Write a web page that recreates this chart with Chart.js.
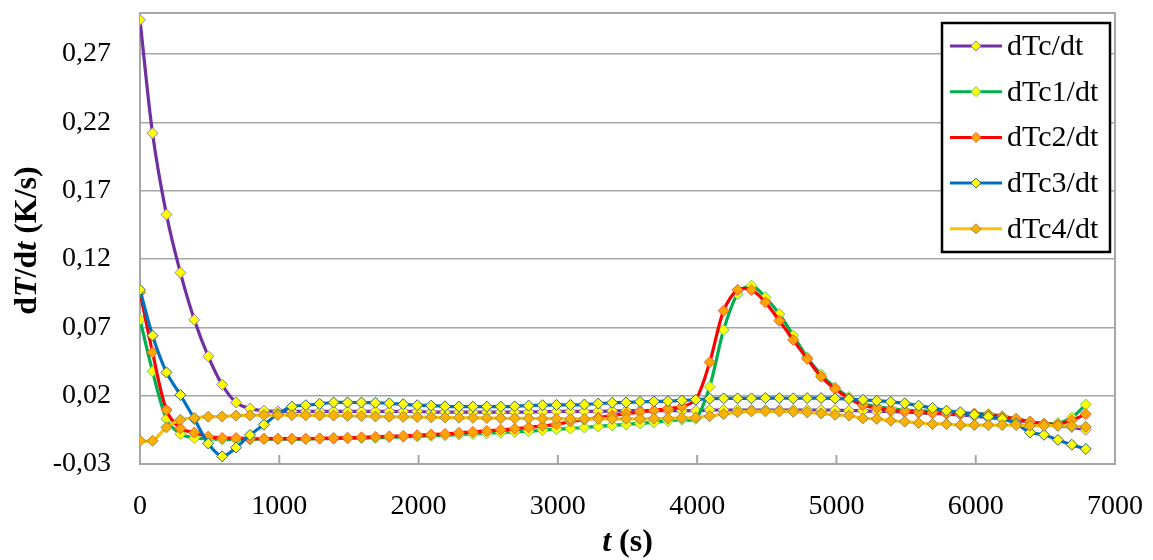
<!DOCTYPE html>
<html>
<head>
<meta charset="utf-8">
<script src="https://cdn.jsdelivr.net/npm/chart.js@4/dist/chart.umd.min.js"></script>
<style>
  body { margin: 0; background: #fff; }
  canvas { display: block; }
</style>
</head>
<body>
<canvas id="chart" width="1153" height="560"></canvas>
<script>
// time stamps (s)
const times = [
  0, 90, 190, 290, 390, 490, 590, 690, 790, 890,
  990, 1090, 1190, 1290, 1390, 1490, 1590, 1690, 1790, 1890,
  1990, 2090, 2190, 2290, 2390, 2490, 2590, 2690, 2790, 2890,
  2990, 3090, 3190, 3290, 3390, 3490, 3590, 3690, 3790, 3890,
  3990, 4090, 4190, 4290, 4390, 4490, 4590, 4690, 4790, 4890,
  4990, 5090, 5190, 5290, 5390, 5490, 5590, 5690, 5790, 5890,
  5990, 6090, 6190, 6290, 6390, 6490, 6590, 6690, 6790
];

const dTc = [
  0.295, 0.212, 0.1525, 0.110, 0.0756, 0.0488, 0.028, 0.015, 0.0105, 0.009,
  0.0085, 0.0085, 0.0085, 0.0085, 0.0085, 0.0085, 0.0085, 0.0085, 0.0085, 0.0085,
  0.0085, 0.008, 0.008, 0.008, 0.008, 0.008, 0.008, 0.008, 0.008, 0.0082,
  0.0085, 0.0085, 0.0085, 0.0085, 0.0088, 0.009, 0.009, 0.009, 0.009, 0.009,
  0.009, 0.0095, 0.0095, 0.0095, 0.0095, 0.0095, 0.0095, 0.0095, 0.0095, 0.0095,
  0.0095, 0.009, 0.009, 0.0085, 0.0085, 0.008, 0.0075, 0.007, 0.0065, 0.006,
  0.005, 0.004, 0.003, 0.002, 0.0005, -0.001, -0.002, -0.003, -0.005
];

const dTc1 = [
  0.0756, 0.0378, 0.003, -0.008, -0.011, -0.0115, -0.012, -0.012, -0.012, -0.0118,
  -0.0118, -0.0118, -0.0118, -0.0115, -0.0115, -0.0112, -0.011, -0.0108, -0.0105, -0.0102,
  -0.0098, -0.0095, -0.009, -0.0085, -0.008, -0.0075, -0.007, -0.0065, -0.006, -0.0052,
  -0.0045, -0.004, -0.0033, -0.0025, -0.0018, -0.001, -0.0003, 0.0005, 0.0015, 0.0025,
  0.003, 0.0266, 0.068, 0.0944, 0.1005, 0.092, 0.0798, 0.064, 0.048, 0.0354,
  0.026, 0.019, 0.014, 0.012, 0.0105, 0.0095, 0.009, 0.0085, 0.008, 0.0075,
  0.007, 0.0065, 0.005, 0.003, 0.001, -0.0005, 0.0, 0.004, 0.0135
];

const dTc2 = [
  0.0955, 0.0517, 0.0095, -0.004, -0.007, -0.010, -0.011, -0.011, -0.0115, -0.0115,
  -0.0115, -0.0115, -0.0115, -0.0112, -0.011, -0.0108, -0.0105, -0.0102, -0.0098, -0.0095,
  -0.009, -0.0085, -0.008, -0.0072, -0.0065, -0.0058, -0.005, -0.0042, -0.0032, -0.0022,
  -0.001, 0.001, 0.0025, 0.004, 0.0055, 0.0068, 0.008, 0.0092, 0.0105, 0.012,
  0.017, 0.0444, 0.0822, 0.0974, 0.0974, 0.0883, 0.0749, 0.0608, 0.0469, 0.0339,
  0.0249, 0.018, 0.013, 0.011, 0.0095, 0.0085, 0.008, 0.0075, 0.007, 0.007,
  0.0065, 0.006, 0.0045, 0.003, 0.001, -0.0005, -0.001, 0.002, 0.0065
];

const dTc3 = [
  0.0974, 0.064, 0.037, 0.0205, 0.003, -0.015, -0.0244, -0.018, -0.0088, -0.0012,
  0.0066, 0.012, 0.013, 0.014, 0.015, 0.015, 0.015, 0.0148, 0.0144, 0.0137,
  0.013, 0.0127, 0.0122, 0.012, 0.012, 0.012, 0.012, 0.0122, 0.0127, 0.013,
  0.0132, 0.0132, 0.0135, 0.0142, 0.0148, 0.015, 0.0155, 0.0158, 0.016, 0.0165,
  0.017, 0.0178, 0.018, 0.018, 0.018, 0.0182, 0.0182, 0.018, 0.0182, 0.0182,
  0.018, 0.0175, 0.017, 0.0162, 0.0155, 0.0144, 0.0127, 0.011, 0.009, 0.0078,
  0.0061, 0.0046, 0.003, -0.0003, -0.0069, -0.0086, -0.0124, -0.0159, -0.019
];

const dTc4 = [
  -0.013, -0.013, -0.0032, 0.0024, 0.0037, 0.0046, 0.0048, 0.0054, 0.0056, 0.0058,
  0.0058, 0.0058, 0.0056, 0.0055, 0.0054, 0.0052, 0.005, 0.0048, 0.0046, 0.0045,
  0.0044, 0.0042, 0.004, 0.0039, 0.0038, 0.0036, 0.0035, 0.0034, 0.0033, 0.0032,
  0.0031, 0.003, 0.003, 0.003, 0.003, 0.003, 0.003, 0.0032, 0.0034, 0.0037,
  0.004, 0.005, 0.0065, 0.0078, 0.0085, 0.0085, 0.0085, 0.0082, 0.0078, 0.007,
  0.006, 0.0054, 0.0034, 0.003, 0.0017, 0.001, 0.0, -0.0007, -0.0007, -0.0015,
  -0.0015, -0.0015, -0.0015, -0.0015, -0.002, -0.002, -0.002, -0.0022, -0.0028
];

const seriesNames = ['dTc/dt', 'dTc1/dt', 'dTc2/dt', 'dTc3/dt', 'dTc4/dt'];
const yTicks = [-0.03, 0.02, 0.07, 0.12, 0.17, 0.22, 0.27];
const xTicks = [0, 1000, 2000, 3000, 4000, 5000, 6000, 7000];

const FONT = '"Liberation Serif", "Times New Roman", serif';

const styles = [
  { line: '#7030a0', fill: '#ffff00', edge: '#9a7cb8' },
  { line: '#00b050', fill: '#ffff00', edge: '#66d060' },
  { line: '#ff0000', fill: '#ffa500', edge: '#ff5a30' },
  { line: '#0070c0', fill: '#ffff00', edge: '#2f5f8a' },
  { line: '#ffc000', fill: '#ffb000', edge: '#8f8a50' }
];

const allSeries = [dTc, dTc1, dTc2, dTc3, dTc4];

const datasets = allSeries.map((vals, i) => ({
  label: seriesNames[i],
  data: times.map((t, k) => ({ x: t, y: vals[k] })),
  borderColor: styles[i].line,
  borderWidth: 3.2,
  pointStyle: 'rectRot',
  pointRadius: 5.5,
  pointBorderWidth: 1,
  pointBackgroundColor: styles[i].fill,
  pointBorderColor: styles[i].edge,
  tension: 0.3,
  fill: false,
  order: 5 - i   // later series on top, like the original
}));

// frame round the plot and inward tick marks on the time axis
const framePlugin = {
  id: 'frame',
  beforeDatasetsDraw(chart) {
    const { ctx, chartArea: a, scales: { x } } = chart;
    ctx.save();
    ctx.strokeStyle = '#a6a6a6';
    ctx.lineWidth = 2;
    ctx.strokeRect(a.left, a.top, a.right - a.left, a.bottom - a.top);
    x.ticks.forEach(t => {
      const px = x.getPixelForValue(t.value);
      ctx.beginPath();
      ctx.moveTo(px, a.bottom);
      ctx.lineTo(px, a.bottom - 9);
      ctx.stroke();
    });
    ctx.restore();
  }
};

function drawRuns(ctx, runs, cx, cy) {
  const widths = runs.map(r => { ctx.font = r.font; return ctx.measureText(r.text).width; });
  const total = widths.reduce((a, b) => a + b, 0);
  let x = cx - total / 2;
  runs.forEach((r, i) => {
    ctx.font = r.font;
    ctx.fillText(r.text, x, cy);
    x += widths[i];
  });
}

// axis titles with italic symbols
const titlePlugin = {
  id: 'titles',
  afterDraw(chart) {
    const { ctx, chartArea: a } = chart;
    const b = 'bold 32px ' + FONT;
    const bi = 'italic bold 32px ' + FONT;
    ctx.save();
    ctx.fillStyle = '#000';
    ctx.textAlign = 'left';
    ctx.textBaseline = 'middle';
    drawRuns(ctx, [
      { text: 't', font: bi },
      { text: ' (s)', font: b }
    ], (a.left + a.right) / 2, 543);
    ctx.translate(28, (a.top + a.bottom) / 2 + 2);
    ctx.rotate(-Math.PI / 2);
    drawRuns(ctx, [
      { text: 'd', font: b },
      { text: 'T', font: bi },
      { text: '/d', font: b },
      { text: 't', font: bi },
      { text: ' (K/s)', font: b }
    ], 0, 0);
    ctx.restore();
  }
};

// boxed legend inside the plot, top right
const legendPlugin = {
  id: 'boxLegend',
  afterDraw(chart) {
    const { ctx, chartArea: a } = chart;
    const bx = a.right - 173, by = a.top + 10, bw = 168, bh = 229;
    ctx.save();
    ctx.fillStyle = '#fff';
    ctx.fillRect(bx, by, bw, bh);
    ctx.strokeStyle = '#000';
    ctx.lineWidth = 2.5;
    ctx.strokeRect(bx, by, bw, bh);
    ctx.font = '30px ' + FONT;
    ctx.textBaseline = 'middle';
    chart.data.datasets.forEach((ds, i) => {
      const y = by + 23 + i * 45.7;
      ctx.strokeStyle = ds.borderColor;
      ctx.lineWidth = 3;
      ctx.beginPath();
      ctx.moveTo(bx + 8, y);
      ctx.lineTo(bx + 60, y);
      ctx.stroke();
      const mx = bx + 34, r = 5;
      ctx.beginPath();
      ctx.moveTo(mx - r, y);
      ctx.lineTo(mx, y - r);
      ctx.lineTo(mx + r, y);
      ctx.lineTo(mx, y + r);
      ctx.closePath();
      ctx.fillStyle = ds.pointBackgroundColor;
      ctx.fill();
      ctx.strokeStyle = ds.pointBorderColor;
      ctx.lineWidth = 1;
      ctx.stroke();
      ctx.fillStyle = '#000';
      ctx.fillText(ds.label, bx + 65, y + 1);
    });
    ctx.restore();
  }
};

const noEdgePad = s => {
  s.paddingTop = 0; s.paddingBottom = 0;
  s.paddingLeft = 0; s.paddingRight = 0;
};

new Chart(document.getElementById('chart'), {
  type: 'line',
  data: { datasets },
  options: {
    responsive: false,
    animation: false,
    layout: { padding: { top: 13, right: 38, left: 0, bottom: 0 } },
    plugins: {
      legend: { display: false },
      tooltip: { enabled: false }
    },
    scales: {
      x: {
        type: 'linear',
        min: 0,
        max: 7000,
        afterBuildTicks: s => { s.ticks = xTicks.map(v => ({ value: v })); },
        afterFit: s => { s.height = 96; noEdgePad(s); },
        grid: { display: false, drawTicks: false },
        border: { display: false },
        ticks: {
          padding: 26,
          color: '#000',
          font: { family: FONT, size: 28 },
          callback: v => String(v)
        }
      },
      y: {
        min: -0.03,
        max: 0.30,
        afterBuildTicks: s => { s.ticks = yTicks.map(v => ({ value: v })); },
        afterFit: s => { s.width = 140; noEdgePad(s); },
        grid: { color: '#a6a6a6', lineWidth: 1.5, drawTicks: false },
        border: { display: false },
        ticks: {
          padding: 29,
          color: '#000',
          font: { family: FONT, size: 28 },
          callback: v => v.toFixed(2).replace('.', ',')
        }
      }
    }
  },
  plugins: [framePlugin, titlePlugin, legendPlugin]
});
</script>
</body>
</html>
